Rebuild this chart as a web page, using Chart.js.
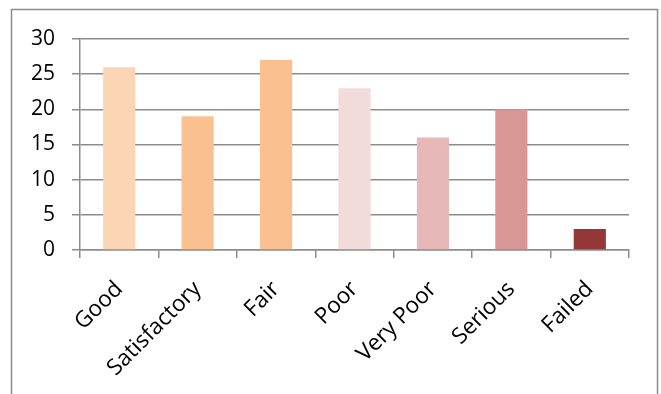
<!doctype html>
<html lang="en">
<head>
    <meta charset="UTF-8">
    <script src="https://cdn.jsdelivr.net/npm/chart.js@4.4.1/dist/chart.umd.min.js"></script>
    <title>Ratings</title>
    <style>
        * { margin: 0; padding: 0; box-sizing: border-box; }
        body { background: #fff; }
        #wrap { width: 661px; height: 394px; }
    </style>
</head>
<body>
<div id="wrap"><canvas id="canvas"></canvas></div>
<script>
    // Data
    const categories = ["Good", "Satisfactory", "Fair", "Poor", "Very Poor", "Serious", "Failed"];
    const counts = [26, 19, 27, 23, 16, 20, 3];
    const barColors = ["#fcd5b5", "#fac090", "#fac090", "#f2dcdb", "#e6b9b8", "#d99694", "#953735"];
    const yTicks = [0, 5, 10, 15, 20, 25, 30];

    // outer frame around the chart
    const framePlugin = {
        id: "frame",
        beforeDraw(chart) {
            const ctx = chart.ctx;
            ctx.save();
            ctx.strokeStyle = "#8c8c8c";
            ctx.lineWidth = 1.5;
            ctx.strokeRect(11.5, 9.5, 646, 420);
            ctx.restore();
        }
    };

    const ctx = document.getElementById("canvas").getContext("2d");
    new Chart(ctx, {
        type: "bar",
        data: {
            labels: categories,
            datasets: [{
                data: counts,
                backgroundColor: barColors,
                categoryPercentage: 1,
                barPercentage: 0.41
            }]
        },
        options: {
            responsive: true,
            maintainAspectRatio: false,
            animation: false,
            layout: { padding: { top: 39, right: 32, left: 0, bottom: 0 } },
            plugins: { legend: { display: false }, tooltip: { enabled: false } },
            scales: {
                x: {
                    afterFit(scale) { scale.height = 144; },
                    grid: { drawOnChartArea: false, drawTicks: true, tickLength: 8, color: "#8c8c8c", lineWidth: 1.5, offset: true },
                    border: { color: "#8c8c8c", width: 1.5 },
                    ticks: {
                        color: "#000",
                        font: { family: "Open Sans", size: 22.5 },
                        minRotation: 45,
                        maxRotation: 45,
                        padding: 18
                    }
                },
                y: {
                    min: 0,
                    max: 30,
                    afterFit(scale) { scale.width = 80; },
                    afterBuildTicks(scale) { scale.ticks = yTicks.map(v => ({ value: v })); },
                    grid: { color: "#8c8c8c", lineWidth: 1.5, tickLength: 8 },
                    border: { color: "#8c8c8c", width: 1.5 },
                    ticks: {
                        color: "#000",
                        font: { family: "Open Sans", size: 21 },
                        padding: 17
                    }
                }
            }
        },
        plugins: [framePlugin]
    });
</script>
</body>
</html>
